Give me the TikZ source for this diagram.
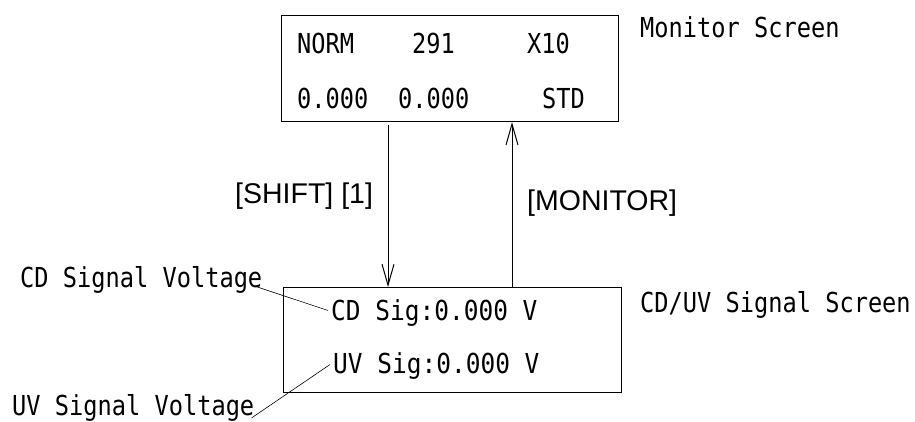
\documentclass[tikz,border=0pt]{standalone}
\usepackage{fontspec}
\setmainfont{Liberation Sans}
\newfontfamily\lcdfont[FakeStretch=0.86]{DejaVu Sans Mono}
\newfontfamily\lcdwidefont[FakeStretch=0.89]{DejaVu Sans Mono}
\usetikzlibrary{arrows.meta}
\begin{document}
\begin{tikzpicture}[x=1pt,y=-1pt,
  screen/.style={draw, line width=1.2pt, inner sep=0pt, anchor=north west},
  lcd/.style={font=\lcdfont\fontsize{27.5}{32}\selectfont, anchor=base west, inner sep=0pt},
  lcdwide/.style={lcd, font=\lcdwidefont\fontsize{27.5}{32}\selectfont},
  keylabel/.style={font=\fontsize{28.5}{33}\selectfont, anchor=base west, inner sep=0pt},
  flow/.style={line width=1pt, -{Straight Barb[length=21pt,width=12pt]}},
  leader/.style={line width=0.6pt}]
\useasboundingbox (0,0) rectangle (915,421);

% the two display screens
\node[screen, minimum width=337pt, minimum height=106pt] (mon) at (281,15) {};
\node[screen, minimum width=338pt, minimum height=105pt] (sig) at (283,287) {};

% monitor screen contents
\node[lcd] (norm) at (297,53) {NORM};
\node[lcd] (n291) at (412,53) {291};
\node[lcd] (x10) at (527,53) {X10};
\node[lcd] (v1) at (297,108) {0.000};
\node[lcd] (v2) at (398,108) {0.000};
\node[lcd] (std) at (542,108) {STD};
\node[lcd] (monlbl) at (640,37) {Monitor Screen};

% signal screen contents
\node[lcdwide] (cdsig) at (331,320) {CD Sig:0.000 V};
\node[lcdwide] (uvsig) at (333,373) {UV Sig:0.000 V};
\node[lcd] (siglbl) at (640,312) {CD/UV Signal Screen};

% callouts
\node[lcd] (cdv) at (20,287) {CD Signal Voltage};
\node[lcd] (uvv) at (12,415) {UV Signal Voltage};
\draw[leader] ([xshift=-5pt]cdv.base east) -- ([xshift=-3pt,yshift=2pt]cdsig.west);
\draw[leader] ([xshift=-3pt,yshift=-3pt]uvv.base east) -- ([xshift=-3pt,yshift=1pt]uvsig.west);

% key transitions
\coordinate (dn) at (388,125);
\coordinate (up) at (512,0);
\draw[flow] (dn) -- (dn |- sig.north);
\draw[flow] (up |- sig.north) -- (up |- mon.south);
\node[keylabel] (shift) at (235,203) {[SHIFT] [1]};
\node[keylabel] (monkey) at (527,210) {[MONITOR]};
\end{tikzpicture}
\end{document}
